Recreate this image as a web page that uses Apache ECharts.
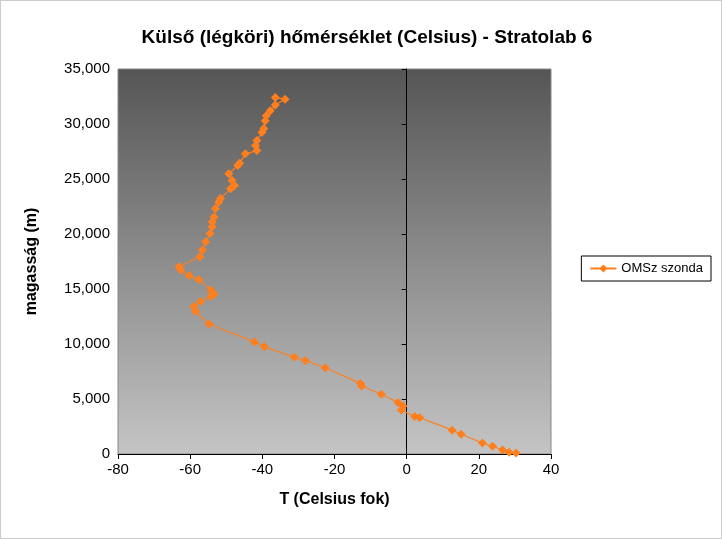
<!DOCTYPE html><html><head><meta charset="utf-8"><script src="https://cdn.jsdelivr.net/npm/echarts@6/dist/echarts.min.js"></script>
<style>html,body{margin:0;padding:0;background:#fff}#c{width:722px;height:539px;box-sizing:border-box;border:1px solid #ccc}</style></head><body><div id="c"></div><script>
const temps=[30.3,28.4,26.6,23.8,21,15.1,12.6,3.6,2.2,-1.5,-1,-2.4,-7,-12.5,-12.8,-22.6,-28.1,-31.1,-39.4,-42.2,-54.8,-58.5,-59,-57.1,-54.3,-53.4,-54.3,-57.6,-60.3,-62.6,-63.1,-57.3,-56.6,-55.7,-54.5,-53.9,-53.9,-53.4,-53,-52.1,-51.6,-48.8,-47.7,-48.4,-49.3,-46.8,-46.3,-44.7,-41.5,-41.9,-41.5,-40.1,-39.6,-39.2,-38.9,-37.8,-36.4,-33.7,-36.4];
const heights=[100,150,360,700,1000,1800,2170,3320,3410,4000,4370,4680,5430,6180,6420,7840,8500,8800,9740,10190,11820,12960,13410,13870,14320,14530,14920,15830,16220,16730,17030,17930,18540,19290,20050,20650,21100,21550,22310,22910,23220,24120,24420,24870,25480,26230,26440,27290,27580,28040,28490,29240,29600,30300,30750,31200,31720,32260,32400];
const seriesName='OMSz szonda';
const chart=echarts.init(document.getElementById('c'));
const F='Liberation Sans, Arial, sans-serif';
chart.setOption({
 animation:false,
 title:{text:'Külső (légköri) hőmérséklet (Celsius) - Stratolab 6',left:361,top:22,textAlign:'center',textStyle:{fontFamily:F,fontSize:19,fontWeight:'bold',color:'#000'}},
 legend:{data:[seriesName],right:10,top:255,orient:'vertical',borderColor:'#000',borderWidth:1,padding:[6,8],itemWidth:26,itemHeight:10,textStyle:{fontFamily:F,fontSize:13,color:'#000'}},
 grid:{left:117,right:170,top:68,bottom:84,show:true,borderColor:'#888',borderWidth:1,
  backgroundColor:{type:'linear',x:0,y:0,x2:0,y2:1,colorStops:[{offset:0,color:'#555555'},{offset:1,color:'#c4c4c4'}]}},
 xAxis:{type:'value',min:-80,max:40,interval:20,name:'T (Celsius fok)',nameLocation:'middle',nameGap:38,
  nameTextStyle:{fontFamily:F,fontSize:16,fontWeight:'bold',color:'#000'},
  axisLine:{lineStyle:{color:'#000'}},axisTick:{show:true,inside:false,lineStyle:{color:'#000'}},splitLine:{show:false},
  axisLabel:{fontFamily:F,fontSize:15,color:'#000'}},
 yAxis:{type:'value',min:0,max:35000,interval:5000,name:'magasság (m)',nameLocation:'middle',nameGap:78,
  nameTextStyle:{fontFamily:F,fontSize:16,fontWeight:'bold',color:'#000'},
  axisLine:{show:true,lineStyle:{color:'#000'}},axisTick:{show:true,lineStyle:{color:'#000'}},splitLine:{show:false},
  axisLabel:{fontFamily:F,fontSize:15,color:'#000'}},
 series:[{name:seriesName,type:'line',data:temps.map((t,i)=>[t,heights[i]]),symbol:'diamond',symbolSize:9,
  itemStyle:{color:'#ff7f1e'},lineStyle:{color:'#ff7f1e',width:1.2}}]
});
</script></body></html>
